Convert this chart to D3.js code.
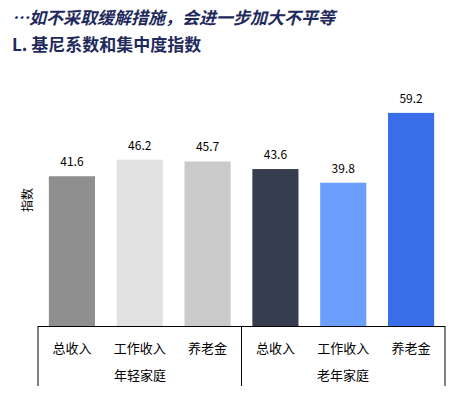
<!DOCTYPE html>
<html><head><meta charset="utf-8">
<script src="https://cdn.jsdelivr.net/npm/d3@7"></script>
<style>body{margin:0;background:#fff}</style>
</head><body>
<svg id="c" width="470" height="401"></svg>
<script>
// données
const categories = ["总收入", "工作收入", "养老金", "总收入", "工作收入", "养老金"]
const values = [41.6, 46.2, 45.7, 43.6, 39.8, 59.2]
const colors = ["#8f8f8f", "#e1e1e1", "#cacaca", "#363d4e", "#6a9ffd", "#3a6ee9"]
const groups = ["年轻家庭", "老年家庭"]

const svg = d3.select("#c")
const font = "'Noto Sans CJK SC', sans-serif"

svg.append("text").attr("x", 12).attr("y", 24)
  .attr("font-family", font).attr("font-size", 17).attr("font-weight", "bold")
  .attr("font-style", "italic").attr("fill", "#1f2a5c")
  .text("…如不采取缓解措施，会进一步加大不平等")
svg.append("text").attr("x", 12).attr("y", 51)
  .attr("font-family", font).attr("font-size", 17).attr("font-weight", "bold")
  .attr("fill", "#1f2a5c")
  .text("L. 基尼系数和集中度指数")

const x = d3.scaleBand().domain(d3.range(6)).range([38, 445]).paddingInner(0.32).paddingOuter(0.16)
const y = d3.scaleLinear().domain([0, 60]).range([326, 110])

svg.selectAll("rect.bar").data(values).enter().append("rect")
  .attr("x", (d, i) => x(i)).attr("width", x.bandwidth())
  .attr("y", d => y(d)).attr("height", d => y(0) - y(d))
  .attr("fill", (d, i) => colors[i])

svg.selectAll("text.val").data(values).enter().append("text")
  .attr("x", (d, i) => x(i) + x.bandwidth() / 2).attr("y", d => y(d) - 10)
  .attr("text-anchor", "middle").attr("font-family", font).attr("font-size", 12)
  .text(d => d.toFixed(1))

svg.append("text").attr("transform", "translate(32,200) rotate(-90)")
  .attr("text-anchor", "middle").attr("font-family", font).attr("font-size", 12)
  .text("指数")

const axis = svg.append("g").attr("stroke", "#000").attr("stroke-width", 1)
axis.append("line").attr("x1", 38).attr("x2", 445).attr("y1", 326.5).attr("y2", 326.5)
;[38, 241.5, 445].forEach(v => axis.append("line").attr("x1", v).attr("x2", v).attr("y1", 326).attr("y2", 386))

svg.selectAll("text.cat").data(categories).enter().append("text")
  .attr("x", (d, i) => x(i) + x.bandwidth() / 2).attr("y", 353)
  .attr("text-anchor", "middle").attr("font-family", font).attr("font-size", 13)
  .text(d => d)

svg.selectAll("text.grp").data(groups).enter().append("text")
  .attr("x", (d, i) => i === 0 ? 140 : 343).attr("y", 380)
  .attr("text-anchor", "middle").attr("font-family", font).attr("font-size", 13)
  .text(d => d)
</script>
</body></html>
